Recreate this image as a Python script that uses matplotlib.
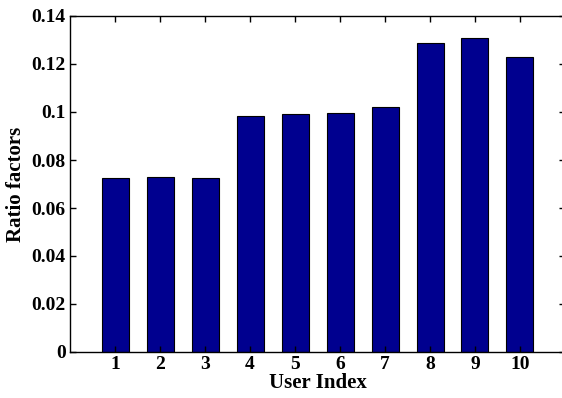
import matplotlib
matplotlib.use('Agg')
import matplotlib.pyplot as plt

# Ratio factor per user
users = [1, 2, 3, 4, 5, 6, 7, 8, 9, 10]
ratios = [0.0725, 0.0728, 0.0725, 0.0982, 0.0993, 0.0995, 0.1021, 0.1289, 0.1307, 0.1231]
yticks = [0, 0.02, 0.04, 0.06, 0.08, 0.1, 0.12, 0.14]
ytick_labels = ['0', '0.02', '0.04', '0.06', '0.08', '0.1', '0.12', '0.14']

plt.rcParams['font.family'] = ['Liberation Serif', 'DejaVu Serif']
plt.rcParams['font.weight'] = 'bold'

fig = plt.figure(figsize=(5.62, 3.98), dpi=100)
# axes run slightly past the right edge of the figure
ax = fig.add_axes([70/562, 1 - 352/398, 495/562, 336/398])

ax.bar(users, ratios, width=0.6, color='#00008F', edgecolor='black', linewidth=0.8)

ax.set_xlim(0, 11)
ax.set_ylim(0, 0.14)
ax.set_xticks(users)
ax.set_yticks(yticks)
ax.set_yticklabels(ytick_labels)
ax.tick_params(direction='in', top=True, right=True, length=4, width=1,
               labelsize=14, pad=3)
for lbl in ax.get_xticklabels() + ax.get_yticklabels():
    lbl.set_fontweight('bold')
for sp in ax.spines.values():
    sp.set_linewidth(1.0)

ax.set_xlabel('User Index', fontsize=15, fontweight='bold', labelpad=0)
ax.set_ylabel('Ratio factors', fontsize=15, fontweight='bold', labelpad=4)

fig.savefig('out.png', dpi=100)
